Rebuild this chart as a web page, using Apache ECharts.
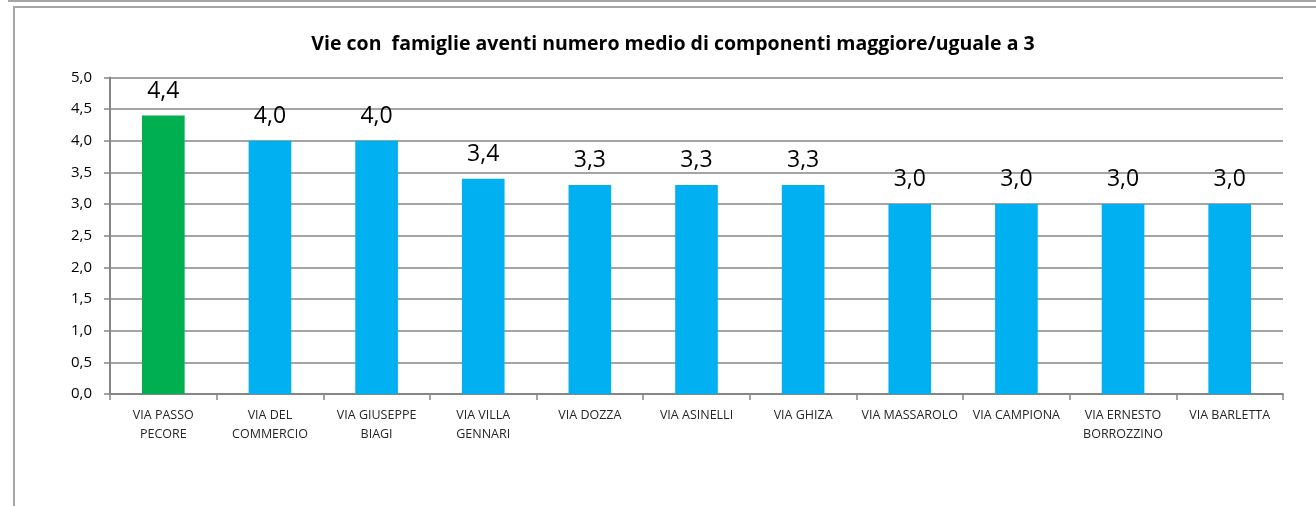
<!DOCTYPE html>
<html>
<head>
<meta charset="utf-8">
<script src="https://cdn.jsdelivr.net/npm/echarts@6/dist/echarts.min.js"></script>
<style>
html,body{margin:0;padding:0;background:#fff;}
#wrap{position:absolute;left:0;top:0;width:1316px;height:506px;overflow:hidden;}
#topline{position:absolute;left:8px;top:0;width:1308px;height:0;border-top:2px solid #a6a6a6;}
#frame{position:absolute;left:13px;top:6px;width:1400px;height:600px;border:2px solid #a6a6a6;box-sizing:border-box;}
#chart{position:absolute;left:0;top:0;width:1316px;height:506px;}
</style>
</head>
<body>
<div id="wrap">
<div id="topline"></div>
<div id="frame"></div>
<div id="chart"></div>
</div>
<script>
const title = 'Vie con  famiglie aventi numero medio di componenti maggiore/uguale a 3';
const categories = ['VIA PASSO\nPECORE','VIA DEL\nCOMMERCIO','VIA GIUSEPPE\nBIAGI','VIA VILLA\nGENNARI','VIA DOZZA','VIA ASINELLI','VIA GHIZA','VIA MASSAROLO','VIA CAMPIONA','VIA ERNESTO\nBORROZZINO','VIA BARLETTA'];
const values = [4.4, 4.0, 4.0, 3.4, 3.3, 3.3, 3.3, 3.0, 3.0, 3.0, 3.0];
const highlightIndex = 0;
const yTicks = {min: 0, max: 5, interval: 0.5};

const fmt = v => Number(v).toFixed(1).replace('.', ',');
const FONT = 'Open Sans';
const chart = echarts.init(document.getElementById('chart'), null, {renderer: 'canvas'});
chart.setOption({
  animation: false,
  backgroundColor: 'transparent',
  graphic: [{
    type: 'text', x: 673, y: 44,
    style: {text: title, fontFamily: FONT, fontWeight: 'bold', fontSize: 19.5, fill: '#000', align: 'center', verticalAlign: 'middle'}
  }],
  grid: {left: 110, right: 33, top: 77.5, bottom: 112, containLabel: false},
  xAxis: {
    type: 'category', data: categories,
    axisLine: {lineStyle: {color: '#868686', width: 2}},
    axisTick: {show: true, length: 6, lineStyle: {color: '#868686', width: 1.5}},
    axisLabel: {fontFamily: FONT, fontSize: 12.5, color: '#262626', margin: 12, lineHeight: 19, interval: 0}
  },
  yAxis: {
    type: 'value', min: yTicks.min, max: yTicks.max, interval: yTicks.interval,
    axisLine: {show: true, lineStyle: {color: '#868686', width: 2}},
    axisTick: {show: true, length: 6, lineStyle: {color: '#868686', width: 1.5}},
    splitLine: {lineStyle: {color: '#868686', width: 1.5}},
    axisLabel: {fontFamily: FONT, fontSize: 15, color: '#000', margin: 18, formatter: fmt}
  },
  series: [{
    type: 'bar',
    data: values.map((v, i) => ({value: v, itemStyle: {color: i === highlightIndex ? '#00B050' : '#00B0F0'}})),
    barCategoryGap: '60%',
    label: {show: true, position: 'top', distance: 13, fontFamily: FONT, fontSize: 23, color: '#000', formatter: p => fmt(p.value)}
  }]
});
</script>
</body>
</html>
